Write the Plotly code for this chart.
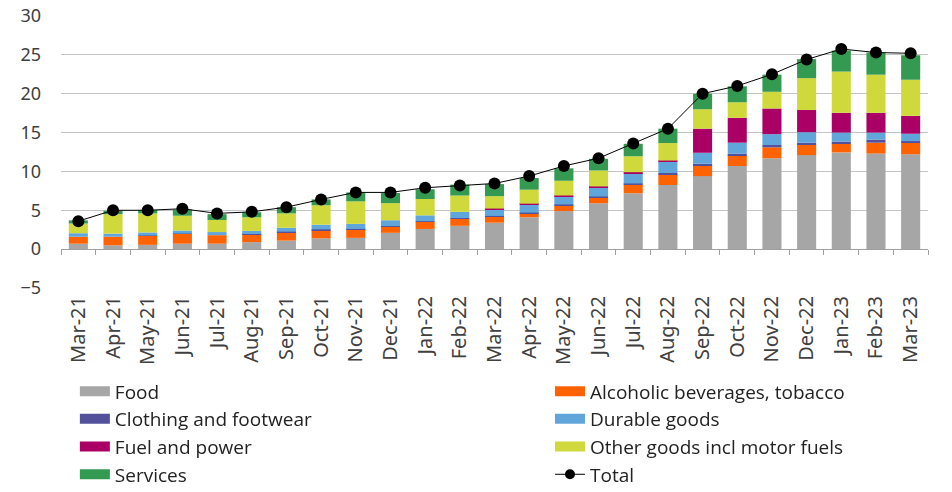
import plotly.graph_objects as go

months = ["Mar-21","Apr-21","May-21","Jun-21","Jul-21","Aug-21","Sep-21","Oct-21","Nov-21","Dec-21",
          "Jan-22","Feb-22","Mar-22","Apr-22","May-22","Jun-22","Jul-22","Aug-22","Sep-22","Oct-22",
          "Nov-22","Dec-22","Jan-23","Feb-23","Mar-23"]

food =     [0.7,0.5,0.55,0.7,0.7,0.9,1.1,1.4,1.45,2.1,2.6,3.0,3.4,4.1,4.9,5.9,7.2,8.25,9.4,10.7,11.7,12.1,12.45,12.3,12.2]
alcohol =  [0.9,1.1,1.15,1.25,1.1,1.0,1.1,1.05,1.1,0.77,0.9,0.9,0.77,0.5,0.75,0.77,1.15,1.4,1.4,1.4,1.4,1.4,1.15,1.4,1.5]
clothing = [-0.1,-0.1,0.05,0.05,-0.1,0.05,0.05,0.1,0.05,0.1,0.1,0.1,0.1,0.1,0.1,0.1,0.1,0.15,0.2,0.2,0.3,0.2,0.25,0.4,0.2]
durable =  [0.45,0.4,0.4,0.4,0.4,0.4,0.5,0.6,0.65,0.75,0.75,0.8,0.85,1.05,1.05,1.15,1.3,1.5,1.4,1.4,1.4,1.35,1.15,0.9,0.95]
fuel =     [0,0,0,0,0,0,0,0,0,0,0,0,0.1,0.1,0.1,0.15,0.15,0.1,3.1,3.2,3.3,2.85,2.55,2.55,2.3]
other =    [1.25,2.5,2.45,1.9,1.55,1.75,1.85,2.5,2.9,2.2,2.1,2.1,1.6,1.8,1.9,2.05,2.05,2.25,2.5,2.0,2.15,4.1,5.3,4.9,4.65]
services = [0.4,0.45,0.45,0.8,0.75,0.65,0.8,0.75,1.15,1.3,1.25,1.4,1.55,1.5,1.6,1.5,1.6,1.85,2.0,2.05,2.2,2.45,2.7,2.85,3.15]
total =    [3.6,5.0,5.0,5.2,4.6,4.8,5.4,6.4,7.3,7.3,7.9,8.2,8.45,9.4,10.7,11.7,13.6,15.5,20.0,21.0,22.5,24.4,25.75,25.3,25.2]

series = [
    ("Food", food, "#a6a6a6", "legend"),
    ("Alcoholic beverages, tobacco", alcohol, "#ff6200", "legend2"),
    ("Clothing and footwear", clothing, "#525199", "legend"),
    ("Durable goods", durable, "#60a6da", "legend2"),
    ("Fuel and power", fuel, "#aa0066", "legend"),
    ("Other goods incl motor fuels", other, "#d0d93c", "legend2"),
    ("Services", services, "#349a52", "legend"),
]

fig = go.Figure()
for name, vals, col, lg in series:
    fig.add_trace(go.Bar(x=months, y=vals, name=name, marker=dict(color=col, line=dict(width=0)),
                         showlegend=False))

fig.add_trace(go.Scatter(x=months, y=total, name="Total", mode="lines+markers",
                         line=dict(color="black", width=1),
                         marker=dict(color="black", size=12), showlegend=False))

# legend entries (wide swatches), two column legends
for name, vals, col, lg in series:
    fig.add_trace(go.Scatter(x=[None], y=[None], name=name, mode="lines", legend=lg,
                             legendgroup=name, line=dict(color=col, width=10), showlegend=True))
fig.add_trace(go.Scatter(x=[None], y=[None], name="Total", mode="lines+markers", legend="legend2",
                         legendgroup="Total", line=dict(color="black", width=1),
                         marker=dict(color="black", size=10), showlegend=True))

# invisible trace for the zero-line axis with boundary ticks
fig.add_trace(go.Scatter(x=months, y=total, xaxis="x2", mode="markers", opacity=0,
                         showlegend=False, hoverinfo="skip"))

ytickfont = dict(family="Noto Sans", size=18, color="#404040")
xtickfont = dict(family="Noto Sans", size=20, color="#404040")
legfont = dict(family="Open Sans", size=19, color="#222222")

fig.update_layout(
    barmode="relative",
    bargap=0.45,
    width=952, height=492,
    margin=dict(l=61, r=24, t=16, b=204, autoexpand=False),
    plot_bgcolor="white", paper_bgcolor="white",
    xaxis=dict(type="category", categoryorder="array", categoryarray=months,
               range=[-0.5, 24.5], tickangle=-90, tickfont=xtickfont,
               showline=False, ticks="", showgrid=False, ticklabelstandoff=3),
    xaxis2=dict(type="category", categoryorder="array", categoryarray=months,
                range=[-0.5, 24.5], overlaying="x", anchor="free", position=5/35,
                side="bottom", showline=True, linecolor="#a0a0a0", linewidth=1,
                ticks="outside", ticklen=5, tickcolor="#a0a0a0", tickson="boundaries",
                showticklabels=False, showgrid=False),
    yaxis=dict(range=[-5, 30], dtick=5, tickfont=ytickfont, showgrid=True,
               gridcolor="#c4c4c4", gridwidth=1, zeroline=False, showline=False,
               ticks="", ticklabelstandoff=19),
    legend=dict(orientation="v", x=0.016, y=-0.31, xanchor="left", yanchor="top",
                itemwidth=30, tracegroupgap=0, font=legfont, bgcolor="rgba(0,0,0,0)"),
    legend2=dict(orientation="v", x=0.564, y=-0.31, xanchor="left", yanchor="top",
                 itemwidth=30, tracegroupgap=0, font=legfont, bgcolor="rgba(0,0,0,0)"),
)

fig.write_html("out.html")
